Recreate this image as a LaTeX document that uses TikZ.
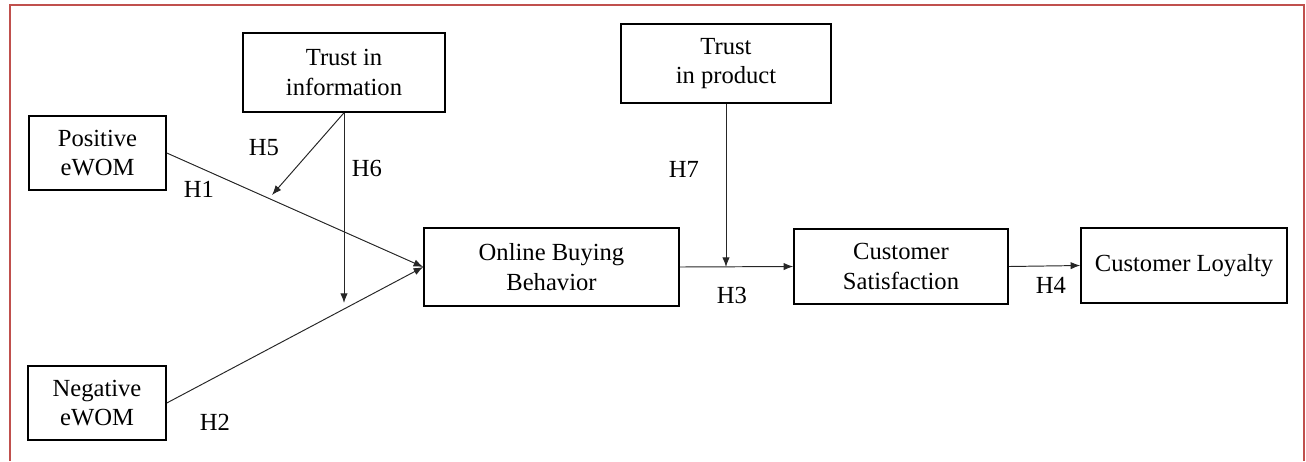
\documentclass[tikz,border=0pt]{standalone}
\usepackage{fontspec}
\setmainfont{Liberation Serif}
\usetikzlibrary{arrows.meta}
\tikzset{
  >={Latex[length=5.5pt,width=4.2pt]},
}
\definecolor{framered}{RGB}{192,80,77}
\tikzstyle{box}=[draw,line width=0.9pt,align=center,inner sep=0pt]
\tikzstyle{link}=[->,line width=0.55pt,draw=black!85]
\tikzstyle{every node}=[font=\fontsize{14}{17}\selectfont]

\begin{document}
\begin{tikzpicture}[x=0.02cm,y=-0.02cm]
  \useasboundingbox (0,0) rectangle (1306,461);
  \draw[framered,line width=0.8pt] (10,461)--(10,5)--(1304,5)--(1304,461);
  % boxes
  \node[box,minimum width=2.74cm,minimum height=1.48cm] (pos) at (97.5,153) {Positive\\eWOM};
  \node[box,minimum width=2.76cm,minimum height=1.48cm] (neg) at (97,403) {Negative\\eWOM};
  \node[box,minimum width=4.04cm,minimum height=1.58cm] (tinfo) at (344,72.5) {Trust in\\information};
  \node[box,minimum width=5.1cm,minimum height=1.56cm] (obb) at (551.5,267) {Online Buying\\Behavior};
  \node[box,minimum width=4.2cm,minimum height=1.58cm] (tprod) at (726,63.5) {Trust\\in product};
  \node[box,minimum width=4.28cm,minimum height=1.5cm] (sat) at (901,266.5) {Customer\\Satisfaction};
  \node[box,minimum width=4.12cm,minimum height=1.5cm] (loy) at (1184,265.5) {Customer Loyalty};
  \coordinate (h5end) at (272,195);
  \coordinate (h6end) at (344,303);
  \coordinate (h7end) at (726,267);
  % paths
  \draw[link] (pos.east)--(obb.west);
  \draw[link] (neg.east)--(obb.west);
  \draw[link] (tinfo.south)--(h5end);
  \draw[link] (tinfo.south)--(h6end);
  \draw[link] (obb.east)--(sat.west);
  \draw[link] (tprod.south)--(h7end);
  \draw[link] (sat.east)--(loy.west);
  % hypotheses
  \node (h1) at (199,189) {H1};
  \node (h2) at (215,422) {H2};
  \node (h3) at (732,295) {H3};
  \node (h4) at (1051,285) {H4};
  \node (h5) at (264,148) {H5};
  \node (h6) at (367,168) {H6};
  \node (h7) at (684,169) {H7};
\end{tikzpicture}
\end{document}
